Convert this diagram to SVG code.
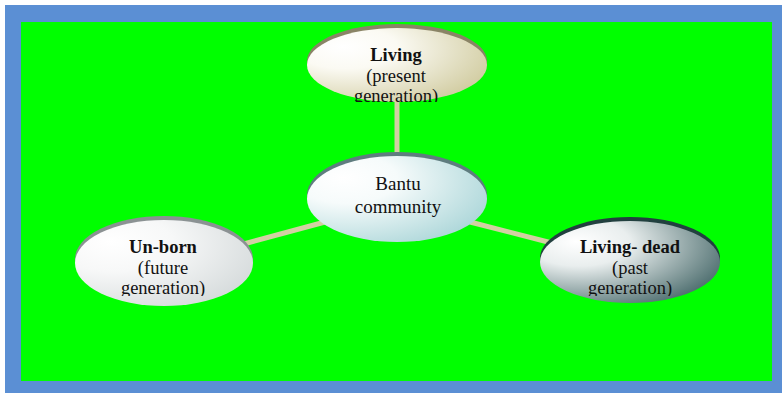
<svg xmlns="http://www.w3.org/2000/svg" width="782" height="393" viewBox="0 0 782 393">
  <defs>
    <radialGradient id="gLiving" cx="0.25" cy="0.3" r="0.95" fx="0.2" fy="0.25">
      <stop offset="0" stop-color="#ffffff"/>
      <stop offset="0.3" stop-color="#fbfaf3"/>
      <stop offset="1" stop-color="#c9c391"/>
    </radialGradient>
    <radialGradient id="gBantu" cx="0.25" cy="0.3" r="0.95" fx="0.2" fy="0.25">
      <stop offset="0" stop-color="#ffffff"/>
      <stop offset="0.3" stop-color="#f6fbfb"/>
      <stop offset="1" stop-color="#9fd0d3"/>
    </radialGradient>
    <radialGradient id="gUnborn" cx="0.25" cy="0.3" r="0.95" fx="0.2" fy="0.25">
      <stop offset="0" stop-color="#ffffff"/>
      <stop offset="0.35" stop-color="#f7f8f8"/>
      <stop offset="1" stop-color="#cfd5d6"/>
    </radialGradient>
    <radialGradient id="gDead" cx="0.25" cy="0.3" r="0.95" fx="0.2" fy="0.25">
      <stop offset="0" stop-color="#ffffff"/>
      <stop offset="0.3" stop-color="#e9eeee"/>
      <stop offset="1" stop-color="#2f5556"/>
    </radialGradient>
    <clipPath id="clipLiving"><rect x="300" y="20" width="200" height="82"/></clipPath>
    <clipPath id="clipUnborn"><rect x="70" y="210" width="200" height="86"/></clipPath>
    <clipPath id="clipDead"><rect x="535" y="210" width="200" height="86"/></clipPath>
  </defs>
  <style>
    .title { font-family: "Liberation Serif", "Times New Roman", serif; font-size: 18.5px; font-weight: bold; fill: #111; text-anchor: middle; }
    .sub { font-family: "Liberation Serif", "Times New Roman", serif; font-size: 18.5px; fill: #111; text-anchor: middle; }
    .hub { font-family: "Liberation Serif", "Times New Roman", serif; font-size: 19px; fill: #111; text-anchor: middle; }
    .link { stroke: #d3d0a3; stroke-width: 5; fill: none; }
  </style>

  <!-- frame -->
  <rect x="5" y="5" width="777" height="388" fill="#5b8fd4"/>
  <rect x="21" y="22" width="751" height="359" fill="#00ff00"/>

  <!-- connectors -->
  <g id="connectors">
    <line class="link" x1="397" y1="100" x2="397" y2="157"/>
    <line class="link" x1="325" y1="222" x2="240" y2="245"/>
    <line class="link" x1="470" y1="222" x2="552" y2="243"/>
  </g>

  <!-- hub -->
  <g id="bantu">
    <ellipse cx="397" cy="195" rx="90" ry="43" fill="#5f7d7f"/>
    <ellipse cx="397" cy="199" rx="90" ry="43" fill="url(#gBantu)"/>
    <text class="hub" x="398" y="190">Bantu</text>
    <text class="hub" x="398" y="213">community</text>
  </g>

  <g id="living">
    <ellipse cx="397" cy="61" rx="90" ry="37" fill="#8a8466"/>
    <ellipse cx="397" cy="65" rx="90" ry="37" fill="url(#gLiving)"/>
    <g clip-path="url(#clipLiving)">
      <text class="title" x="396" y="61">Living</text>
      <text class="sub" x="396" y="82">(present</text>
      <text class="sub" x="396" y="102">generation)</text>
    </g>
  </g>

  <g id="unborn">
    <ellipse cx="164" cy="259" rx="89" ry="43" fill="#8b9293"/>
    <ellipse cx="164" cy="263" rx="89" ry="43" fill="url(#gUnborn)"/>
    <g clip-path="url(#clipUnborn)">
      <text class="title" x="163" y="253">Un-born</text>
      <text class="sub" x="163" y="274">(future</text>
      <text class="sub" x="163" y="294">generation)</text>
    </g>
  </g>

  <g id="living-dead">
    <ellipse cx="630" cy="258" rx="90" ry="41" fill="#22403f"/>
    <ellipse cx="630" cy="262" rx="90" ry="41" fill="url(#gDead)"/>
    <g clip-path="url(#clipDead)">
      <text class="title" x="630" y="253">Living- dead</text>
      <text class="sub" x="630" y="274">(past</text>
      <text class="sub" x="630" y="294">generation)</text>
    </g>
  </g>
</svg>
